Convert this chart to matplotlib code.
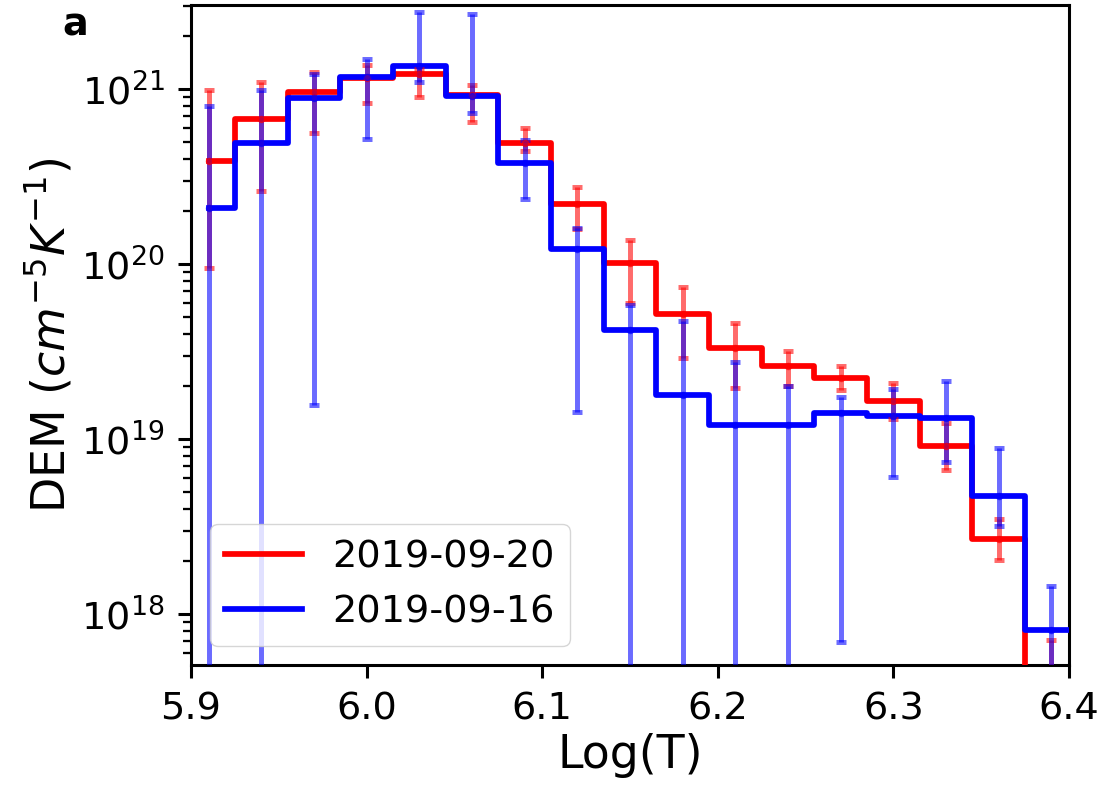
import matplotlib
matplotlib.use("Agg")
import matplotlib.pyplot as plt
import numpy as np

# ---- data ----
logT = [5.91, 5.94, 5.97, 6.00, 6.03, 6.06, 6.09, 6.12, 6.15, 6.18, 6.21,
        6.24, 6.27, 6.30, 6.33, 6.36, 6.39, 6.42]

red_label = "2019-09-20"
red_val = [3.9e20, 6.7e20, 9.6e20, 1.15e21, 1.22e21, 9.2e20, 4.9e20, 2.2e20,
           1.01e20, 5.2e19, 3.3e19, 2.6e19, 2.24e19, 1.66e19, 9.1e18, 2.7e18,
           4.0e17, 1.5e17]
red_hi = [9.9e20, 1.1e21, 1.25e21, 1.37e21, 1.3e21, 1.05e21, 6.0e20, 2.75e20,
          1.37e20, 7.4e19, 4.6e19, 3.2e19, 2.6e19, 2.1e19, 1.24e19, 3.5e18,
          7.1e17, 3.0e17]
red_lo = [9.5e19, 2.6e20, 5.6e20, 8.3e20, 9.0e20, 6.5e20, 4.4e20, 1.58e20,
          6.0e19, 2.9e19, 1.95e19, 2.0e19, 1.9e19, 1.3e19, 6.7e18, 2.05e18,
          1.0e17, 5.0e16]

blue_label = "2019-09-16"
blue_val = [2.1e20, 4.9e20, 8.9e20, 1.17e21, 1.35e21, 9.1e20, 3.8e20, 1.22e20,
            4.2e19, 1.78e19, 1.2e19, 1.2e19, 1.41e19, 1.35e19, 1.32e19, 4.7e18,
            8.1e17, 2.0e17]
blue_hi = [8.0e20, 9.9e20, 1.22e21, 1.48e21, 2.76e21, 2.7e21, 5.1e20, 1.6e20,
           5.8e19, 4.7e19, 2.75e19, 2.0e19, 1.74e19, 1.94e19, 2.15e19, 8.9e18,
           1.44e18, 4.0e17]
blue_lo = [1e16, 1e16, 1.56e19, 5.2e20, 1.1e21, 7.3e20, 2.35e20, 1.42e19,
           1e16, 1e16, 1e16, 1e16, 6.9e17, 6.1e18, 7.4e18, 3.2e18, 4.5e17, 1.0e17]

xticks = [5.9, 6.0, 6.1, 6.2, 6.3, 6.4]

# ---- style ----
s = 2.75
plt.rcParams.update({
    "font.family": "DejaVu Sans",
    "font.size": 10 * s,
    "axes.linewidth": 0.8 * s,
    "xtick.major.size": 3.5 * s, "ytick.major.size": 3.5 * s,
    "xtick.minor.size": 2 * s, "ytick.minor.size": 2 * s,
    "xtick.major.width": 0.8 * s, "ytick.major.width": 0.8 * s,
    "xtick.minor.width": 0.6 * s, "ytick.minor.width": 0.6 * s,
    "xtick.major.pad": 3.5 * s, "ytick.major.pad": 3.5 * s,
})

fig = plt.figure(figsize=(11, 7.87), dpi=100)
ax = fig.add_axes([0.1736, 0.155, 0.9718 - 0.1736, 0.9936 - 0.155])

x = np.array(logT)
for val, col, lab in [(red_val, "red", red_label),
                      (blue_val, "blue", blue_label)]:
    ax.step(x, np.array(val), where="mid", color=col, lw=1.5 * s,
            label=lab, zorder=3)
for val, lo, hi, col in [(red_val, red_lo, red_hi, "red"),
                         (blue_val, blue_lo, blue_hi, "blue")]:
    v = np.array(val)
    yerr = [v - np.array(lo), np.array(hi) - v]
    ax.errorbar(x, v, yerr=yerr, fmt=".", color=col, ms=3.2 * s, lw=1.3 * s,
                capsize=1.4 * s, capthick=1.3 * s, alpha=0.58, zorder=4)

ax.set_yscale("log")
ax.set_xlim(5.9, 6.4)
ax.set_ylim(5.12e17, 3.02e21)
ax.set_xticks(xticks)
ax.set_xticklabels([f"{t:.1f}" for t in xticks])
ax.set_xlabel("Log(T)", fontsize=12 * s)
ax.set_ylabel(r"DEM $(cm^{-5}K^{-1})$", fontsize=12 * s)
ax.legend(loc="lower left", fontsize=10 * s)

fig.text(0.057, 0.955, "a", fontsize=10 * s, fontweight="bold")

fig.savefig("out.png", dpi=100)
